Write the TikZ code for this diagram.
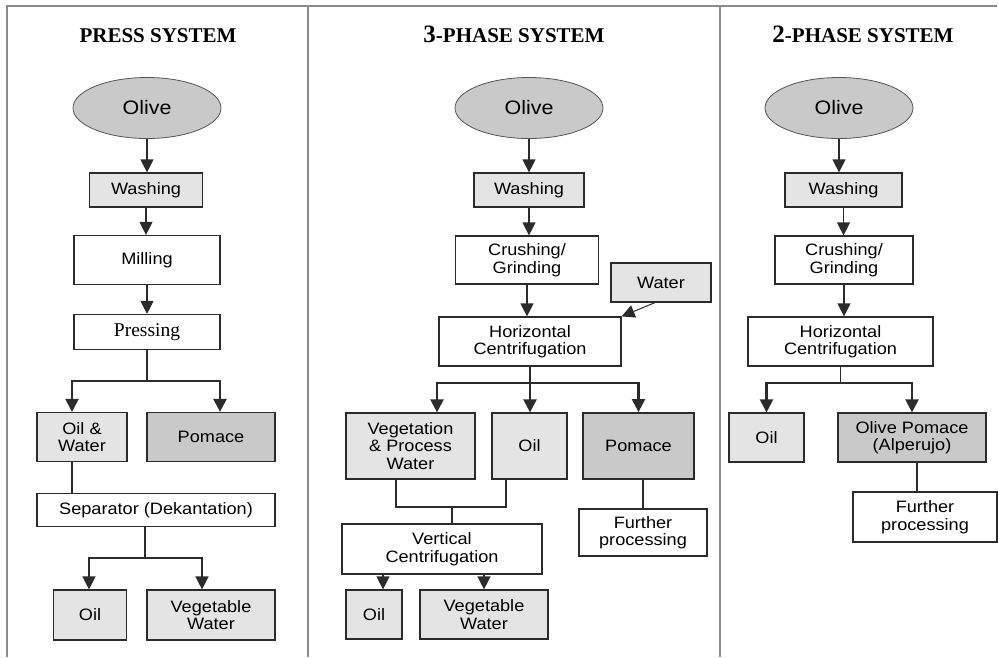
\documentclass[tikz,border=0pt]{standalone}
\usepackage{fontspec}
\setmainfont{Liberation Serif}
\setsansfont{Liberation Sans}[FakeStretch=1.1]
\usetikzlibrary{arrows.meta,shapes.geometric}
\definecolor{ink}{HTML}{2B2B2B}
\definecolor{framegray}{HTML}{8A8A8A}
\definecolor{lightfill}{HTML}{E4E4E4}
\definecolor{darkfill}{HTML}{C9C9C9}
\tikzset{
  flow/.style={-{Triangle[length=13pt,width=13pt]}, line width=1.2pt, draw=ink},
  fork/.style={{Triangle[length=13pt,width=13pt]}-{Triangle[length=13pt,width=13pt]}, line width=2.2pt, draw=ink},
  link/.style={line width=1.2pt, draw=ink},
  frameline/.style={line width=2pt, draw=framegray},
  olive/.style={
    ellipse, draw=ink!80, line width=0.8pt, fill=darkfill,
    minimum width=148pt, minimum height=61pt, inner sep=0pt,
    font=\sffamily\fontsize{19.5}{21}\selectfont,
  },
  box/.style={
    draw=ink, line width=1.2pt, fill=white,
    align=center, inner sep=0pt,
    font=\sffamily\fontsize{16.5}{17.5}\selectfont,
  },
  boxlight/.style={box, fill=lightfill},
  boxdark/.style={box, fill=darkfill},
  title/.style={anchor=base, font=\bfseries\fontsize{21}{24}\selectfont},
}

\begin{document}
\begin{tikzpicture}[x=1pt, y=-1pt]
  \useasboundingbox (0,0) rectangle (998,657);

  % panel frame
  \draw[frameline] (7,657) -- (7,6) -- (997,6);
  \draw[frameline] (308,6) -- (308,657);
  \draw[frameline] (720,6) -- (720,657);

  \node[title] (Ltitle) at (158,42) {PRESS SYSTEM};
  \node[title] (Mtitle) at (514,42) {{\fontsize{25}{26}\selectfont 3}-PHASE SYSTEM};
  \node[title] (Rtitle) at (863,42) {{\fontsize{25}{26}\selectfont 2}-PHASE SYSTEM};

  % press system
  \node[olive] (Lolive) at (147,108) {Olive};
  \node[boxlight, minimum width=113pt, minimum height=34pt] (Lwash) at (146,190) {Washing};
  \node[box, minimum width=146pt, minimum height=49pt] (Lmill) at (147,260) {Milling};
  \node[box, minimum width=146pt, minimum height=35pt, font=\rmfamily\fontsize{19.5}{20}\selectfont] (Lpress) at (147,332) {Pressing};
  \node[boxlight, minimum width=90pt, minimum height=49pt] (Low) at (82,437) {Oil \&\\Water};
  \node[boxdark, minimum width=128pt, minimum height=49pt] (Lpom) at (211,437) {Pomace};
  \node[box, minimum width=238pt, minimum height=33pt] (Lsep) at (156,510) {Separator (Dekantation)};
  \node[boxlight, minimum width=73pt, minimum height=50pt] (Loil) at (90,615) {Oil};
  \node[boxlight, minimum width=128pt, minimum height=50pt] (Lveg) at (211,615) {Vegetable\\Water};

  \draw[flow] (Lolive) -- (Lolive |- Lwash.north);
  \draw[flow] (Lwash) -- (Lwash |- Lmill.north);
  \draw[flow] (Lmill) -- (Lmill |- Lpress.north);
  \draw[link] (Lpress.south) -- ++(0,31) coordinate (Lsplit);
  \draw[fork] ([xshift=-10pt]Low.north) |- (Lsplit) -| ([xshift=9pt]Lpom.north);
  \draw[link] ([xshift=-10pt]Low.south) -- ([xshift=-10pt]Low.south |- Lsep.north);
  \draw[link] ([xshift=-11pt]Lsep.south) -- ++(0,31) coordinate (Lsplit2);
  \draw[fork, line width=1.5pt] ([xshift=-1pt]Loil.north) |- (Lsplit2) -| ([xshift=-9pt]Lveg.north);

  % 3-phase system
  \node[olive] (Molive) at (529,108) {Olive};
  \node[boxlight, minimum width=110pt, minimum height=34pt] (Mwash) at (529,190) {Washing};
  \node[box, minimum width=143pt, minimum height=48pt] (Mcrush) at (527,260) {Crushing/\\Grinding};
  \node[boxlight, minimum width=100pt, minimum height=39pt] (Mwater) at (661,282.5) {Water};
  \node[box, minimum width=182pt, minimum height=49pt] (Mhor) at (530,341.5) {Horizontal\\Centrifugation};
  \node[boxlight, minimum width=129pt, minimum height=66pt] (Mvpw) at (410.5,446) {Vegetation\\\& Process\\Water};
  \node[boxlight, minimum width=75pt, minimum height=66pt] (Moil) at (529.5,446) {Oil};
  \node[boxdark, line width=1.8pt, minimum width=111pt, minimum height=66pt] (Mpom) at (638.5,446) {Pomace};
  \node[box, minimum width=200pt, minimum height=50pt] (Mvert) at (442,549) {Vertical\\Centrifugation};
  \node[boxlight, minimum width=56pt, minimum height=49pt] (Moil2) at (374,614.5) {Oil};
  \node[boxlight, minimum width=128pt, minimum height=49pt] (Mveg) at (484,614.5) {Vegetable\\Water};
  \node[box, minimum width=128pt, minimum height=47pt] (Mfur) at (643,532.5) {Further\\processing};

  \draw[flow] (Molive) -- (Molive |- Mwash.north);
  \draw[flow] (Mwash) -- (Mwash |- Mcrush.north);
  \draw[flow] (Mcrush) -- (Mcrush |- Mhor.north);
  \draw[flow, line width=1pt] ([xshift=-6pt]Mwater.south) -- (Mhor.north east);
  \draw[link] (Mhor.south) -- ++(0,16.5) coordinate (Msplit);
  \draw[fork] ([xshift=26.5pt]Mvpw.north) |- (Msplit) -| (Mpom.north);
  \draw[flow, line width=2.2pt] (Msplit) -- (Msplit |- Moil.north);
  \coordinate (Mjoin) at (452,507);
  \draw[link] ([xshift=-14.5pt]Mvpw.south) |- (Mjoin) -| ([xshift=-23.5pt]Moil.south);
  \draw[link] (Mjoin) -- (Mjoin |- Mvert.north);
  \draw[flow] ([xshift=-59pt]Mvert.south) -- ([xshift=-59pt]Mvert.south |- Moil2.north);
  \draw[flow] (Mveg.north |- Mvert.south) -- (Mveg.north);
  \draw[link, line width=1.8pt] (Mfur.north |- Mpom.south) -- (Mfur.north);

  % 2-phase system
  \node[olive] (Rolive) at (839,108) {Olive};
  \node[boxlight, minimum width=117pt, minimum height=34pt] (Rwash) at (843.5,190) {Washing};
  \node[box, minimum width=138pt, minimum height=48pt] (Rcrush) at (844,260) {Crushing/\\Grinding};
  \node[box, minimum width=185pt, minimum height=49pt] (Rhor) at (840.5,341.5) {Horizontal\\Centrifugation};
  \node[boxlight, minimum width=75pt, minimum height=49pt] (Roil) at (766.5,437.5) {Oil};
  \node[boxdark, minimum width=148pt, minimum height=49pt] (Rpom) at (912,437.5) {Olive Pomace\\(Alperujo)};
  \node[box, minimum width=144pt, minimum height=50pt] (Rfur) at (925,517) {Further\\processing};

  \draw[flow] (Rolive.south) -- (Rolive.south |- Rwash.north);
  \draw[flow] (Rwash) -- (Rwash |- Rcrush.north);
  \draw[flow] (Rcrush) -- (Rcrush |- Rhor.north);
  \draw[link] (Rhor.south) -- ++(0,16.5) coordinate (Rsplit);
  \draw[fork] (Roil.north) |- (Rsplit) -| (Rpom.north);
  \draw[link] ([xshift=5pt]Rpom.south) -- ([xshift=5pt]Rpom.south |- Rfur.north);
\end{tikzpicture}
\end{document}
